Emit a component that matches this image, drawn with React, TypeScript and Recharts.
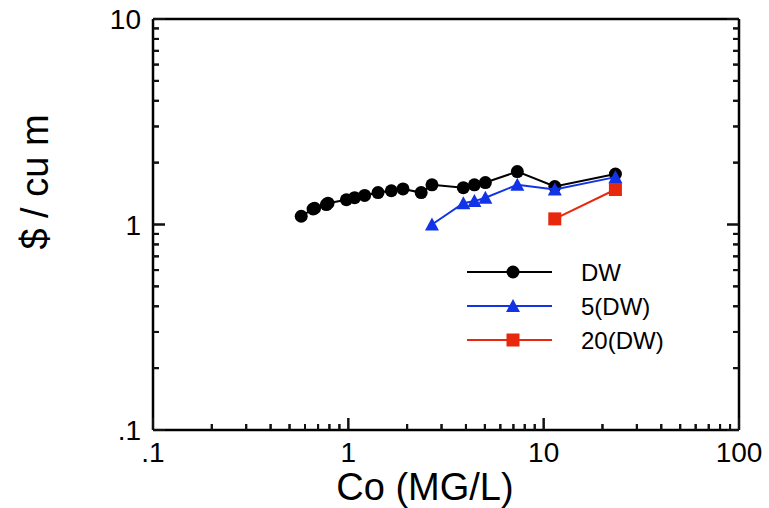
import { ScatterChart, Scatter, XAxis, YAxis, ReferenceLine } from "recharts";

// log-log cost chart: Co (mg/L) vs $ / cu m
const dwX = [0.574, 0.66, 0.672, 0.772, 0.787, 0.977, 1.077, 1.212, 1.419, 1.66, 1.905, 2.36, 2.68, 3.88, 4.42, 5.03, 7.33, 11.4, 23.3];
const dwY = [1.097, 1.19, 1.2, 1.25, 1.27, 1.32, 1.35, 1.385, 1.43, 1.46, 1.49, 1.43, 1.56, 1.51, 1.56, 1.6, 1.81, 1.53, 1.76];

const dw5X = [2.68, 3.88, 4.42, 5.03, 7.33, 11.4, 23.3];
const dw5Y = [1.0, 1.27, 1.3, 1.35, 1.56, 1.48, 1.7];

const dw20X = [11.4, 23.3];
const dw20Y = [1.065, 1.48];

const xMajor = [0.1, 1, 10, 100];
const xLabels = [".1", "1", "10", "100"];
const yMajor = [0.1, 1, 10];
const yLabels = [".1", "1", "10"];
const minorSteps = [2, 3, 4, 5, 6, 7, 8, 9];

const seriesNames = ["DW", "5(DW)", "20(DW)"];
const seriesColors = ["#000000", "#1234E6", "#E8280C"];

const toPoints = (xs: number[], ys: number[]) => xs.map((x, i) => ({ x, y: ys[i] }));

const withMinors = (majors: number[]) => {
  const out: number[] = [];
  majors.forEach((m, i) => {
    out.push(m);
    if (i < majors.length - 1) minorSteps.forEach((s) => out.push(+(m * s).toPrecision(3)));
  });
  return out;
};
const xTicks = withMinors(xMajor);
const yTicks = withMinors(yMajor);

const FONT = "'Liberation Sans', Arial, sans-serif";
const MAJOR = 12;
const MINOR = 6;
// pixels per decade, used only to turn tick lengths into log offsets
const X_DECADE = 195.3;
const Y_DECADE = 205.5;

const labelFor = (v: number, majors: number[], labels: string[]) => {
  const i = majors.findIndex((m) => Math.abs(m - v) < 1e-6 * m);
  return i >= 0 ? labels[i] : null;
};

const xTick = (props: any) => {
  const { x, y, payload } = props;
  const lab = labelFor(payload.value, xMajor, xLabels);
  const len = lab ? MAJOR : MINOR;
  return (
    <g>
      <rect x={x - 1} y={y - len} width={2} height={len} fill="#111" />
      {lab ? (
        <text x={x} y={y + 32} textAnchor="middle" fontSize={28} fontFamily={FONT} fill="#000">
          {lab}
        </text>
      ) : null}
    </g>
  );
};

const yTick = (props: any) => {
  const { x, y, payload } = props;
  const lab = labelFor(payload.value, yMajor, yLabels);
  const len = lab ? MAJOR : MINOR;
  return (
    <g>
      <rect x={x} y={y - 1} width={len} height={2} fill="#111" />
      {lab ? (
        <text x={x - 12} y={y + 10} textAnchor="end" fontSize={28} fontFamily={FONT} fill="#000">
          {lab}
        </text>
      ) : null}
    </g>
  );
};

const rTick = (props: any) => {
  const { x, y, payload } = props;
  const len = labelFor(payload.value, yMajor, yLabels) ? MAJOR : MINOR;
  return <rect x={x - len} y={y - 1} width={len} height={2} fill="#111" />;
};

const Dot = (props: any) => <circle cx={props.cx} cy={props.cy} r={6.5} fill="#000" />;
const Tri = (props: any) => {
  const { cx, cy } = props;
  return <polygon points={`${cx},${cy - 7} ${cx - 7},${cy + 6} ${cx + 7},${cy + 6}`} fill={seriesColors[1]} />;
};
const Sq = (props: any) => (
  <rect x={props.cx - 6.5} y={props.cy - 6.5} width={13} height={13} fill={seriesColors[2]} />
);
const shapes = [Dot, Tri, Sq];

const LegendBox = () => (
  <svg width={240} height={110} style={{ position: "absolute", left: 467, top: 258 }}>
    {seriesNames.map((n, i) => {
      const cy = 14 + i * 34;
      const Shape = shapes[i];
      return (
        <g key={n}>
          <line x1={0} x2={85} y1={cy} y2={cy} stroke={seriesColors[i]} strokeWidth={2} />
          <Shape cx={46} cy={cy} />
          <text x={114} y={cy + 9} fontSize={24} fontFamily={FONT} fill="#000">
            {n}
          </text>
        </g>
      );
    })}
  </svg>
);

const axisStroke = { stroke: "#000", strokeWidth: 2.5 };

export default function App() {
  const dw = toPoints(dwX, dwY);
  const dw5 = toPoints(dw5X, dw5Y);
  const dw20 = toPoints(dw20X, dw20Y);
  const isMajorX = (v: number) => labelFor(v, xMajor, xLabels) !== null;
  const isMajorY = (v: number) => labelFor(v, yMajor, yLabels) !== null;
  return (
    <div style={{ position: "absolute", left: 0, top: 0, width: 769, height: 508, background: "#fff" }}>
      <ScatterChart width={769} height={508} margin={{ top: 0, right: 0, bottom: 0, left: 0 }}>
        <XAxis
          dataKey="x"
          type="number"
          scale="log"
          domain={[0.1, 100]}
          allowDataOverflow
          ticks={xTicks}
          interval={0}
          tick={xTick}
          tickLine={false}
          tickSize={0}
          tickMargin={0}
          height={78}
          axisLine={axisStroke}
          label={() => (
            <text x={425} y={500} textAnchor="middle" fontSize={38} fontFamily={FONT} fill="#000">
              Co (MG/L)
            </text>
          )}
        />
        <XAxis xAxisId="top" orientation="top" type="number" dataKey="x" height={19} tick={false} tickLine={false} axisLine={axisStroke} />
        <YAxis
          dataKey="y"
          type="number"
          scale="log"
          domain={[0.1, 10]}
          allowDataOverflow
          ticks={yTicks}
          interval={0}
          tick={yTick}
          tickLine={false}
          tickSize={0}
          tickMargin={0}
          width={153}
          axisLine={axisStroke}
          label={() => (
            <text x={0} y={0} transform="translate(48,182) rotate(-90)" textAnchor="middle" fontSize={38} fontFamily={FONT} fill="#000">
              $ / cu m
            </text>
          )}
        />
        <YAxis
          yAxisId="right"
          orientation="right"
          type="number"
          dataKey="y"
          scale="log"
          domain={[0.1, 10]}
          allowDataOverflow
          ticks={yTicks}
          interval={0}
          tick={rTick}
          tickLine={false}
          tickSize={0}
          tickMargin={0}
          width={30}
          axisLine={axisStroke}
        />
        {xTicks.slice(1, -1).map((v) => (
          <ReferenceLine
            key={`xt-${v}`}
            segment={[
              { x: v, y: 0.1 },
              { x: v, y: 0.1 * Math.pow(10, (isMajorX(v) ? MAJOR : MINOR) / Y_DECADE) },
            ]}
            stroke="#000"
            strokeWidth={2}
            ifOverflow="visible"
          />
        ))}
        {yTicks.slice(1, -1).map((v) => (
          <ReferenceLine
            key={`yl-${v}`}
            segment={[
              { x: 0.1, y: v },
              { x: 0.1 * Math.pow(10, (isMajorY(v) ? MAJOR : MINOR) / X_DECADE), y: v },
            ]}
            stroke="#000"
            strokeWidth={2}
            ifOverflow="visible"
          />
        ))}
        {yTicks.slice(1, -1).map((v) => (
          <ReferenceLine
            key={`yr-${v}`}
            segment={[
              { x: 100 / Math.pow(10, (isMajorY(v) ? MAJOR : MINOR) / X_DECADE), y: v },
              { x: 100, y: v },
            ]}
            stroke="#000"
            strokeWidth={2}
            ifOverflow="visible"
          />
        ))}
        <Scatter
          name={seriesNames[0]}
          data={dw}
          fill={seriesColors[0]}
          line={{ stroke: seriesColors[0], strokeWidth: 2 }}
          shape={<Dot />}
          isAnimationActive={false}
        />
        <Scatter
          name={seriesNames[1]}
          data={dw5}
          fill={seriesColors[1]}
          line={{ stroke: seriesColors[1], strokeWidth: 2 }}
          shape={<Tri />}
          isAnimationActive={false}
        />
        <Scatter
          name={seriesNames[2]}
          data={dw20}
          fill={seriesColors[2]}
          line={{ stroke: seriesColors[2], strokeWidth: 2 }}
          shape={<Sq />}
          isAnimationActive={false}
        />
      </ScatterChart>
      <LegendBox />
    </div>
  );
}
